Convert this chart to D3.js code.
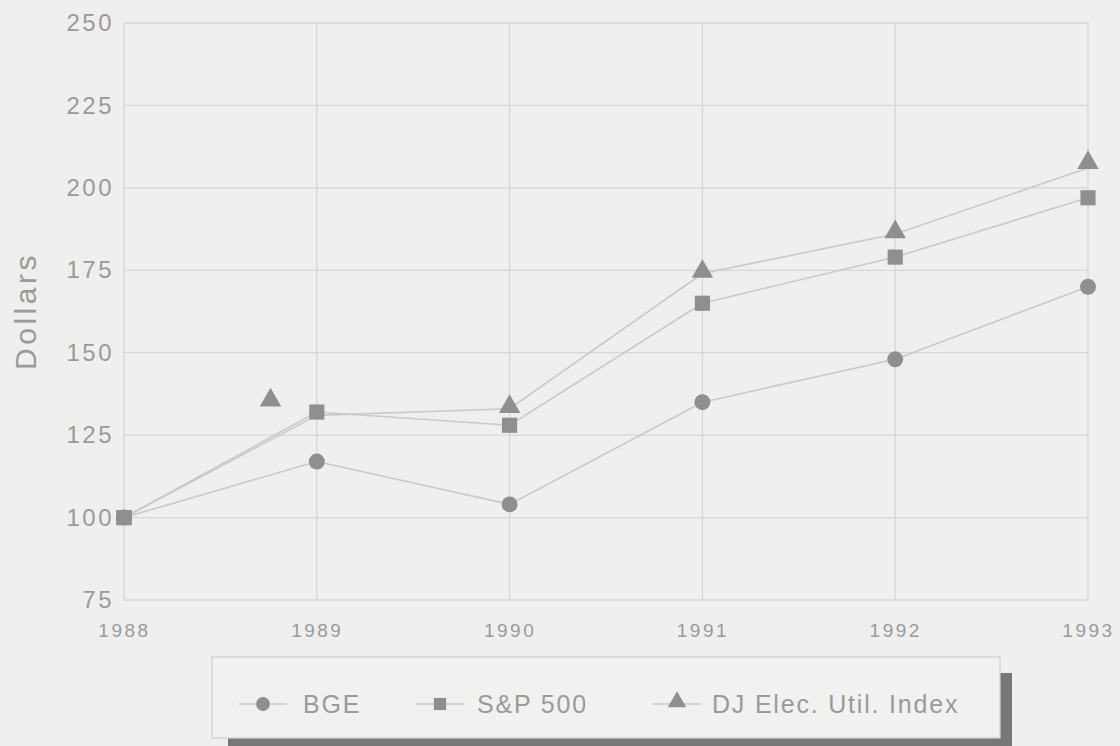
<!DOCTYPE html>
<html><head><meta charset="utf-8">
<script src="https://cdn.jsdelivr.net/npm/d3@7"></script>
<style>
body{margin:0;background:#efefee;}
svg{display:block;}
text{font-family:"Liberation Sans",Arial,sans-serif;fill:#9a9a9a;}
</style></head><body>
<svg id="c" width="1120" height="746"></svg>
<script>
const years = [1988, 1989, 1990, 1991, 1992, 1993];
const bge = [100, 117, 104, 135, 148, 170];
const sp500 = [100, 132, 128, 165, 179, 197];
const djUtil = [100, 131, 133, 174, 186, 206];
// DJ marker positions as printed (1989 marker offset in the original)
const djMarkerYears = [1988, 1988.76, 1990, 1991, 1992, 1993];
const djMarkerVals = [100, 135, 133, 174, 186, 207];
const yTicks = [75, 100, 125, 150, 175, 200, 225, 250];
const seriesNames = ["BGE", "S&P 500", "DJ Elec. Util. Index"];

const svg = d3.select("#c");
const x = d3.scaleLinear().domain([1988, 1993]).range([124, 1088]);
const y = d3.scaleLinear().domain([75, 250]).range([600, 23]);

const grid = svg.append("g");
grid.selectAll("line.h").data(yTicks).enter().append("line")
  .attr("x1", x(1988)).attr("x2", x(1993))
  .attr("y1", d => y(d)).attr("y2", d => y(d))
  .attr("stroke", "#d6d6d6").attr("stroke-width", 1.3);
grid.selectAll("line.v").data(years).enter().append("line")
  .attr("x1", d => x(d)).attr("x2", d => x(d))
  .attr("y1", y(75)).attr("y2", y(250))
  .attr("stroke", "#d6d6d6").attr("stroke-width", 1.3);

const yAxis = d3.axisLeft(y).tickValues(yTicks).tickSize(0).tickPadding(10);
const gy = svg.append("g").attr("transform", `translate(${x(1988)},0)`).call(yAxis);
gy.select(".domain").remove();
gy.selectAll("text").attr("font-size", 24).attr("letter-spacing", 2.5)
  .attr("font-family", "Liberation Sans, Arial, sans-serif").attr("fill", "#9a9a9a");

const xAxis = d3.axisBottom(x).tickValues(years).tickFormat(d3.format("d")).tickSize(0).tickPadding(24);
const gx = svg.append("g").attr("transform", `translate(0,${y(75)})`).call(xAxis);
gx.select(".domain").remove();
gx.selectAll("text").attr("font-size", 19).attr("letter-spacing", 2.5)
  .attr("font-family", "Liberation Sans, Arial, sans-serif").attr("fill", "#9a9a9a");

svg.append("text").attr("transform", `translate(36,311) rotate(-90)`)
  .attr("text-anchor", "middle").attr("font-size", 30).attr("letter-spacing", 3.5)
  .text("Dollars");

const lineGen = vals => d3.line().x((d, i) => x(years[i])).y(d => y(d))(vals);
const lineColor = "#c9c9c9";
[bge, sp500, djUtil].forEach(v => {
  svg.append("path").attr("d", lineGen(v)).attr("fill", "none")
    .attr("stroke", lineColor).attr("stroke-width", 1.6);
});

const mk = "#8f8f8f";
const sym = {
  circle: d3.symbol().type(d3.symbolCircle).size(200),
  square: d3.symbol().type(d3.symbolSquare).size(230),
  triangle: d3.symbol().type(d3.symbolTriangle).size(200)
};
svg.selectAll("path.bge").data(bge).enter().append("path")
  .attr("d", sym.circle()).attr("fill", mk)
  .attr("transform", (d, i) => `translate(${x(years[i])},${y(d)})`);
svg.selectAll("path.sp").data(sp500).enter().append("path")
  .attr("d", sym.square()).attr("fill", mk)
  .attr("transform", (d, i) => `translate(${x(years[i])},${y(d)})`);
svg.selectAll("path.dj").data(djMarkerVals.slice(1)).enter().append("path")
  .attr("d", sym.triangle()).attr("fill", mk)
  .attr("transform", (d, i) => `translate(${x(djMarkerYears[i + 1])},${y(d) - 2})`);
svg.append("path").attr("d", sym.square()).attr("fill", mk)
  .attr("transform", `translate(${x(years[0])},${y(sp500[0])})`);

// legend
const lg = svg.append("g");
lg.append("rect").attr("x", 228).attr("y", 673).attr("width", 784).attr("height", 80).attr("fill", "#777");
lg.append("rect").attr("x", 212).attr("y", 657).attr("width", 788).attr("height", 81)
  .attr("fill", "#f1f1f0").attr("stroke", "#cfcfcf").attr("stroke-width", 1.3);
const items = [
  {name: seriesNames[0], s: sym.circle, mx: 263, tx: 303},
  {name: seriesNames[1], s: sym.square, mx: 440, tx: 477},
  {name: seriesNames[2], s: sym.triangle, mx: 677, tx: 712}
];
items.forEach(it => {
  lg.append("line").attr("x1", it.mx - 24).attr("x2", it.mx + 24).attr("y1", 704).attr("y2", 704)
    .attr("stroke", lineColor).attr("stroke-width", 1.5);
  lg.append("path").attr("d", it.s.size(150)()).attr("fill", mk)
    .attr("transform", `translate(${it.mx},${it.s === sym.triangle ? 702 : 704})`);
  lg.append("text").attr("x", it.tx).attr("y", 713).attr("font-size", 25)
    .attr("letter-spacing", 1.8).text(it.name);
});
</script>
</body></html>
